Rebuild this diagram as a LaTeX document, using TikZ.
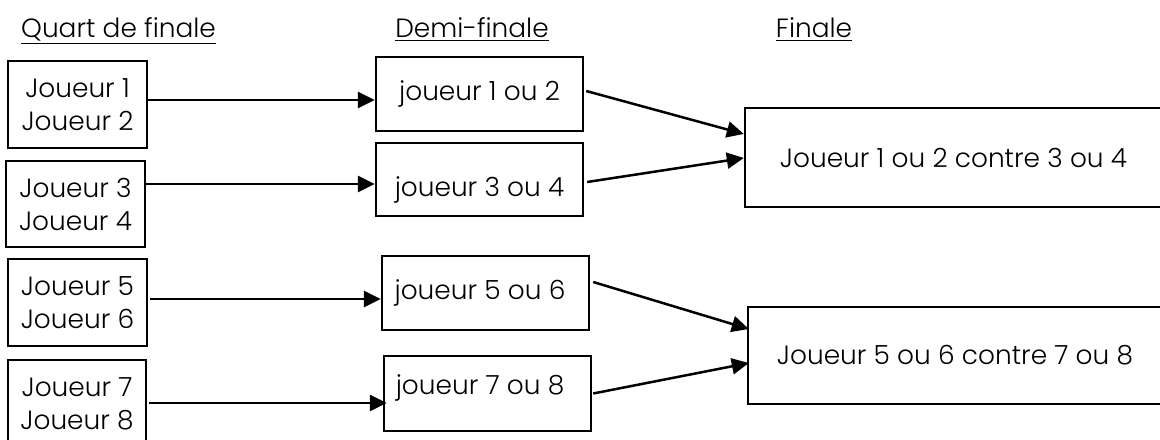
\documentclass[tikz,border=0pt]{standalone}
\usepackage{fontspec}
\setmainfont{Poppins Light}
\usetikzlibrary{arrows.meta,calc}
\newcommand{\nudge}[3]{\raisebox{#2}[\height][\depth]{\hspace*{#1}#3\hspace*{-#1}}}
\begin{document}
\begin{tikzpicture}[x=0.5pt,y=-0.5pt,
  every node/.style={font=\fontsize{13.2}{16.5}\selectfont},
  box/.style={draw=black,line width=1.2pt,inner sep=0pt,align=center},
  arr/.style={draw=black,line width=1.25pt,-{Triangle[length=8.5pt,width=8pt]}},
  head/.style={anchor=base,inner sep=0pt}]
\useasboundingbox (0,0) rectangle (1160,439);
\clip (0,0) rectangle (1160,439);

\node[head] (hq) at (118.5,37) {\underline{Quart de finale}};
\node[head] (hd) at (472,37) {\underline{Demi-finale}};
\node[head] (hf) at (814,37) {\underline{Finale}};

\node[box,minimum width=69.5pt,minimum height=43.5pt] (q1) at (77.5,104.5) {Joueur 1\\Joueur 2};
\node[box,minimum width=69.5pt,minimum height=43pt] (q2) at (75.5,204) {Joueur 3\\Joueur 4};
\node[box,minimum width=69.5pt,minimum height=43.5pt] (q3) at (77.5,302.5) {Joueur 5\\Joueur 6};
\node[box,minimum width=69pt,minimum height=43.5pt] (q4) at (77,403.5) {Joueur 7\\Joueur 8};

\node[box,minimum width=103.5pt,minimum height=37pt] (d1) at (479.5,94) {joueur 1 ou 2};
\node[box,minimum width=103.5pt,minimum height=36.5pt] (d2) at (479.5,179.5) {\nudge{0pt}{-5pt}{joueur 3 ou 4}};
\node[box,minimum width=103.5pt,minimum height=37pt] (d3) at (485.5,293) {\nudge{-2.75pt}{0pt}{joueur 5 ou 6}};
\node[box,minimum width=103.5pt,minimum height=37.5pt] (d4) at (487.5,393.5) {\nudge{-3.75pt}{3pt}{joueur 7 ou 8}};

\node[box,minimum width=208.5pt,minimum height=49.5pt] (f1) at (953.5,157.5) {Joueur 1 ou 2 contre 3 ou 4};
\node[box,minimum width=207pt,minimum height=48.5pt] (f2) at (955,355.5) {Joueur 5 ou 6 contre 7 ou 8};

\coordinate (s1) at ($(q1.east)+(0,-4.5)$);
\coordinate (s2) at ($(q2.east)+(0,-20)$);
\coordinate (s3) at ($(q3.east)+(2,-3.5)$);
\coordinate (s4) at ($(q4.east)+(2,-0.5)$);
\draw[arr] (s1) -- (s1 -| d1.west);
\draw[arr] (s2) -- (s2 -| d2.west);
\draw[arr] (s3) -- (s3 -| d3.west);
\draw[arr] (s4) -- ($(s4 -| d4.west)+(4,0)$);

\draw[arr] ($(d1.east)+(2,-3)$) -- ($(f1.west)+(0,-23.5)$);
\draw[arr] ($(d2.east)+(3,2.5)$) -- ($(f1.west)+(0,0.5)$);
\draw[arr] ($(d3.east)+(3,-11)$) -- ($(f2.west)+(2,-26.5)$);
\draw[arr] ($(d4.east)+(1,0)$) -- ($(f2.west)+(2,7.5)$);
\end{tikzpicture}
\end{document}
